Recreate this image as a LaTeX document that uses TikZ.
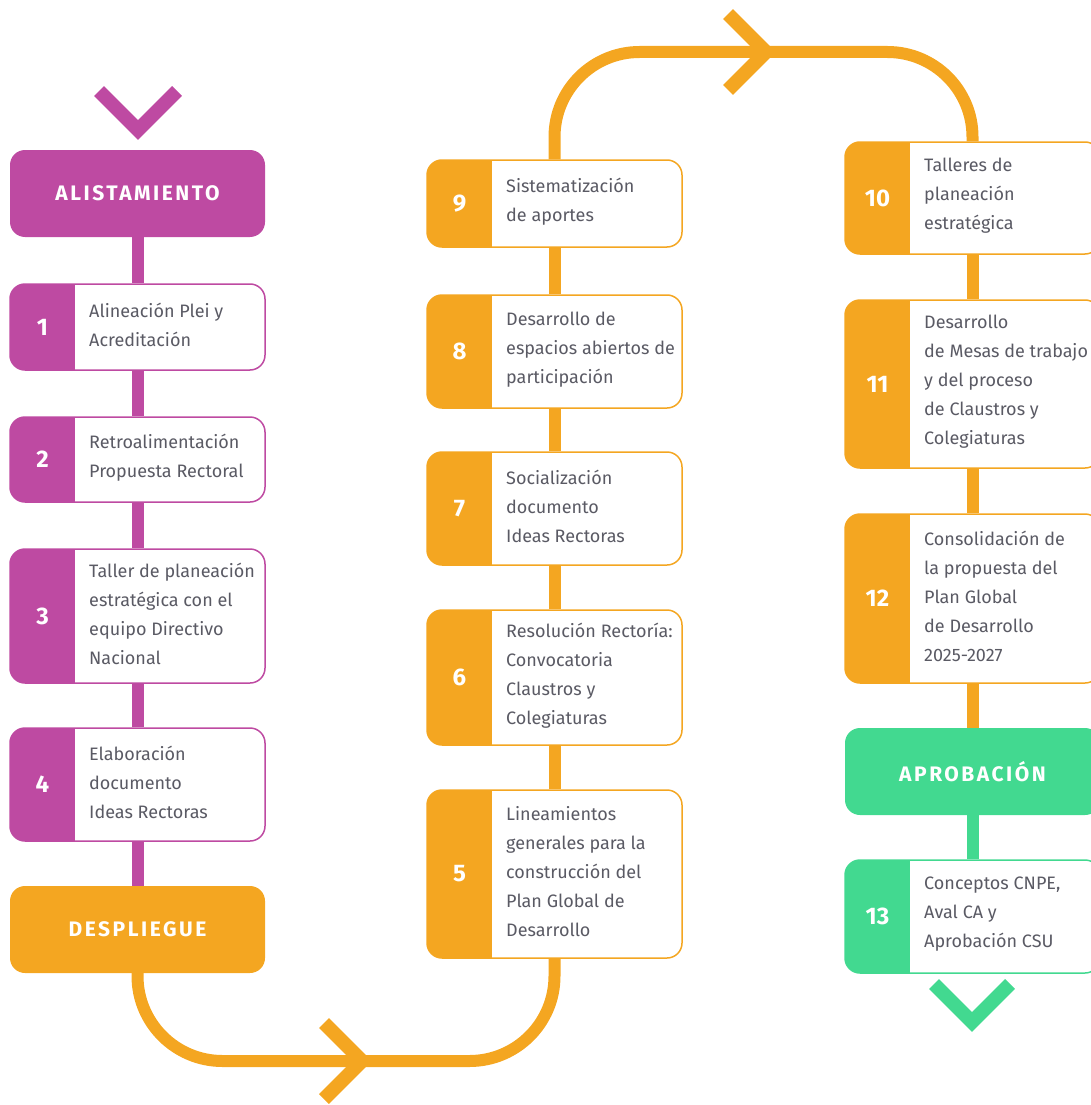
\documentclass[tikz,border=0pt]{standalone}
\usepackage{fontspec}
\setmainfont{Fira Sans}
\newfontfamily\headfont[LetterSpace=12]{Fira Sans}
\definecolor{purp}{HTML}{BE4AA2}
\definecolor{orng}{HTML}{F4A621}
\definecolor{grn}{HTML}{42D990}
\definecolor{txt}{HTML}{5A5A64}
\tikzset{
  conn/.style={line width=12pt},
  chev/.style={line width=14pt, line join=miter},
  header/.style={rectangle, rounded corners=15pt, fill=#1, text=white,
    font=\headfont\bfseries\fontsize{21}{24}\selectfont, inner sep=0pt,
    minimum width=255pt, minimum height=87pt},
  nbox/.style={rectangle, rounded corners=15pt, draw=#1, line width=1.5pt,
    fill=white, minimum width=255pt, inner sep=0pt,
    path picture={\fill[#1, sharp corners]
      (path picture bounding box.south west) --
      (path picture bounding box.north west) --
      ([xshift=65pt]path picture bounding box.north west) --
      ([xshift=65pt]path picture bounding box.south west) -- cycle;}},
  numtext/.style={text=white, font=\bfseries\fontsize{24}{28}\selectfont, inner sep=0pt},
  bodytext/.style={text=txt, font=\fontsize{18}{29}\selectfont, align=left, inner sep=0pt}
}
% #1 name, #2 colour, #3 x1, #4 y1, #5 y2, #6 number, #7 text
\newcommand\numbox[7]{%
  \pgfmathsetmacro\cx{#3+127.5}%
  \pgfmathsetmacro\cy{(#4+#5)/2}%
  \pgfmathsetmacro\hh{#5-#4}%
  \node[nbox=#2, minimum height=\hh pt] (#1) at (\cx,\cy) {};
  \node[numtext] (#1n) at (#3+32.5,\cy) {#6};
  \node[bodytext, anchor=west] (#1t) at (#3+79,\cy-2) {#7};
}
\begin{document}
\begin{tikzpicture}[x=1pt,y=-1pt]
\useasboundingbox (0,0) rectangle (1091,1105);
% column 1
\node[header=purp] (h1) at (137.5,193.5) {ALISTAMIENTO};
\numbox{b1}{purp}{10}{284}{370}{1}{Alineación Plei y\\Acreditación}
\numbox{b2}{purp}{10}{417}{502}{2}{Retroalimentación\\Propuesta Rectoral}
\numbox{b3}{purp}{10}{549}{683}{3}{Taller de planeación\\estratégica con el\\equipo Directivo\\Nacional}
\numbox{b4}{purp}{10}{728}{841}{4}{Elaboración\\documento\\Ideas Rectoras}
\node[header=orng] (h2) at (137.5,929.5) {DESPLIEGUE};
% column 2
\numbox{b9}{orng}{427}{160}{247}{9}{Sistematización\\de aportes}
\numbox{b8}{orng}{427}{295}{408}{8}{Desarrollo de\\espacios abiertos de\\participación}
\numbox{b7}{orng}{427}{452}{565}{7}{Socialización\\documento\\Ideas Rectoras}
\numbox{b6}{orng}{427}{610}{745}{6}{Resolución Rectoría:\\Convocatoria\\Claustros y\\Colegiaturas}
\numbox{b5}{orng}{427}{790}{958}{5}{Lineamientos\\generales para la\\construcción del\\Plan Global de\\Desarrollo}
% column 3
\numbox{b10}{orng}{845}{142}{254}{10}{Talleres de\\planeación\\estratégica}
\numbox{b11}{orng}{845}{300}{468}{11}{Desarrollo\\de Mesas de trabajo\\y del proceso\\de Claustros y\\Colegiaturas}
\numbox{b12}{orng}{845}{514}{683}{12}{Consolidación de\\la propuesta del\\Plan Global\\de Desarrollo\\2025-2027}
\node[header=grn] (h3) at (972.5,771.5) {APROBACIÓN};
\numbox{b13}{grn}{845}{860}{973}{13}{Conceptos CNPE,\\Aval CA y\\Aprobación CSU}
% connectors
\draw[conn, purp] (h1.south) -- (b1.north);
\draw[conn, purp] (b1.south) -- (b2.north);
\draw[conn, purp] (b2.south) -- (b3.north);
\draw[conn, purp] (b3.south) -- (b4.north);
\draw[conn, purp] (b4.south) -- (h2.north);
\coordinate (bl) at (137.5,1061);
\coordinate (br) at (554.5,1061);
\draw[conn, orng, rounded corners=85pt] (h2.south) -- (bl) -- (br) -- (b5.south);
\draw[conn, orng] (b5.north) -- (b6.south);
\draw[conn, orng] (b6.north) -- (b7.south);
\draw[conn, orng] (b7.north) -- (b8.south);
\draw[conn, orng] (b8.north) -- (b9.south);
\coordinate (tl) at (554.5,52);
\coordinate (tr) at (972.5,52);
\draw[conn, orng, rounded corners=85pt] (b9.north) -- (tl) -- (tr) -- (b10.north);
\draw[conn, orng] (b10.south) -- (b11.north);
\draw[conn, orng] (b11.south) -- (b12.north);
\draw[conn, orng] (b12.south) -- (h3.north);
\draw[conn, grn] (h3.south) -- (b13.north);
% chevrons
\draw[chev, purp] (99,91) -- (138,130) -- (177,91);
\draw[chev, orng] (324,1023) -- (362,1061) -- (324,1099);
\draw[chev, orng] (728,14) -- (766,52) -- (728,90);
\draw[chev, grn] (934,984) -- (972,1022) -- (1010,984);
\end{tikzpicture}
\end{document}
